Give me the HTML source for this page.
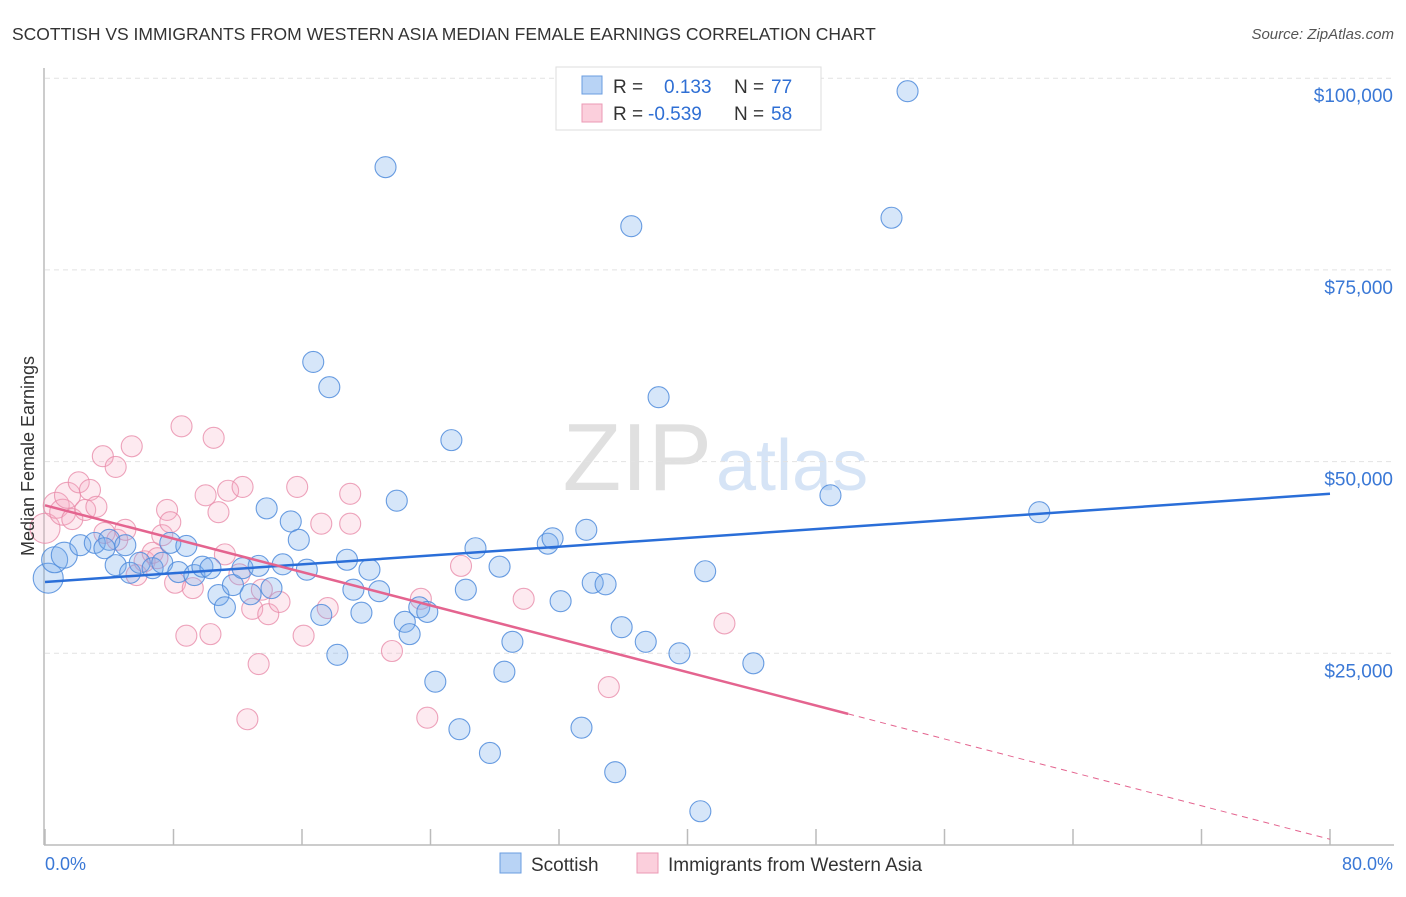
<!DOCTYPE html>
<html><head><meta charset="utf-8">
<style>
body{margin:0;background:#fff;font-family:"Liberation Sans",sans-serif;}
svg text{font-family:"Liberation Sans",sans-serif;}
</style></head>
<body>
<svg id="chart" width="1406" height="892" viewBox="0 0 1406 892" xmlns="http://www.w3.org/2000/svg">
<text x="12" y="40" font-size="17.5" fill="#333">SCOTTISH VS IMMIGRANTS FROM WESTERN ASIA MEDIAN FEMALE EARNINGS CORRELATION CHART</text>
<text x="1394" y="39" font-size="15" fill="#555" text-anchor="end" font-style="italic">Source: ZipAtlas.com</text>
<text x="712" y="490" font-size="96" fill="#e0e0e0" text-anchor="end" font-family="Liberation Serif">ZIP</text>
<text x="716" y="490" font-size="72" fill="#d6e4f6">atlas</text>
<g id="grid"></g>
<g id="axes"></g>
<g id="pts"></g>
<g id="lines"></g>
<text transform="translate(34,456) rotate(-90)" font-size="18" fill="#333" text-anchor="middle">Median Female Earnings</text>
<text x="45" y="870" font-size="18" fill="#3a78d6">0.0%</text>
<text x="1393" y="870" font-size="18" fill="#3a78d6" text-anchor="end">80.0%</text>
<g>
<rect x="556" y="67" width="265" height="63" fill="#fff" stroke="#ddd"/>
<rect x="582" y="76" width="20" height="18" fill="#b8d3f5" stroke="#6a9de0"/>
<rect x="582" y="104" width="20" height="18" fill="#fbcfdc" stroke="#eb9ab5"/>
<text x="613" y="93" font-size="19" fill="#333">R = </text>
<text x="664" y="93" font-size="19" fill="#2f6fd4">0.133</text>
<text x="734" y="93" font-size="19" fill="#333">N = </text>
<text x="771" y="93" font-size="19" fill="#2f6fd4">77</text>
<text x="613" y="120" font-size="19" fill="#333">R = </text>
<text x="648" y="120" font-size="19" fill="#2f6fd4">-0.539</text>
<text x="734" y="120" font-size="19" fill="#333">N = </text>
<text x="771" y="120" font-size="19" fill="#2f6fd4">58</text>
</g>
<g>
<rect x="500" y="853" width="21" height="20" fill="#b8d3f5" stroke="#6a9de0"/>
<text x="531" y="871" font-size="19" fill="#333">Scottish</text>
<rect x="637" y="853" width="21" height="20" fill="#fbcfdc" stroke="#eb9ab5"/>
<text x="668" y="871" font-size="19" fill="#333">Immigrants from Western Asia</text>
</g>
</svg>
<script>
const yTicks=[25000,50000,75000,100000];
const yTickLabels=["$25,000","$50,000","$75,000","$100,000"];
const xTicks=[0,8,16,24,32,40,48,56,64,72,80];
const blueX=[0.2,0.6,1.2,2.2,3.1,4.0,5.0,4.4,3.7,5.3,5.9,6.7,7.3,7.8,8.3,8.8,9.3,9.8,10.3,10.8,11.2,11.7,12.3,12.8,13.3,13.8,14.1,14.8,15.3,15.8,16.3,16.7,17.2,17.7,18.2,18.8,19.2,19.7,20.2,20.8,21.2,21.9,22.4,22.7,23.3,23.8,24.3,25.3,25.8,26.2,26.8,27.7,28.3,28.6,29.1,31.3,31.6,32.1,33.4,33.7,34.1,34.9,35.5,35.9,36.5,37.4,38.2,39.5,40.8,41.1,44.1,48.9,52.7,53.7,61.9];
const blueY=[34800,37200,37800,39100,39400,39800,39100,36500,38700,35500,36800,36100,36800,39400,35600,39000,35200,36300,36100,32600,31000,33900,36100,32700,36400,43900,33500,36600,42200,39800,35900,63000,30000,59700,24800,37200,33300,30300,35900,33100,88400,44900,29100,27500,31000,30400,21300,52800,15100,33300,38700,12000,36300,22600,26500,39300,40000,31800,15300,41100,34200,34000,9500,28400,80700,26500,58400,25000,4400,35700,23700,45600,81800,98300,43400];
const pinkX=[0,0.7,1.1,1.7,1.4,2.1,2.5,2.8,3.2,3.6,4.4,3.7,4.5,5.0,5.4,5.7,6.2,6.7,7.0,7.3,7.6,7.8,8.1,8.5,8.8,9.2,10.0,10.3,10.5,10.8,11.2,11.4,12.3,12.1,12.9,13.3,13.5,12.6,13.9,14.6,15.7,16.1,17.2,17.6,19.0,19.0,21.6,23.4,23.8,25.9,29.8,35.1,42.3];
const pinkY=[41300,44300,43400,42500,45600,47300,43700,46300,44100,50700,49300,40700,39800,41100,52000,35200,37000,38100,37400,40400,43700,42100,34200,54600,27300,33500,45600,27500,53100,43400,37900,46200,46700,35300,30800,23600,33300,16400,30100,31700,46700,27300,41900,30900,45800,41900,25300,32100,16600,36400,32100,20600,28900];
const blueTrend=[[0,34300],[80,45800]];
const pinkTrend=[[0,44300],[50,17100]];
const pinkTrendDash=[[50,17100],[80,750]];
const NS="http://www.w3.org/2000/svg";
const X=v=>45+v/80*1285;
const Y=v=>845-v/25000*191.7;
function mk(tag,attrs,parent){const e=document.createElementNS(NS,tag);for(const k in attrs)e.setAttribute(k,attrs[k]);parent.appendChild(e);return e;}
const grid=document.getElementById('grid'),axes=document.getElementById('axes'),pts=document.getElementById('pts'),lines=document.getElementById('lines');
yTicks.forEach((t,i)=>{
 const l=mk('line',{x1:45,x2:1394,y1:Y(t),y2:Y(t),stroke:'#e2e2e2','stroke-dasharray':'5,4'},grid);
 
 
 const tx=mk('text',{x:1393,y:Y(t)+24,'font-size':19,fill:'#3a78d6','text-anchor':'end'},grid);
 tx.textContent=yTickLabels[i];
 
 
});
const ya=mk('line',{x1:44,x2:44,y1:68,y2:845,stroke:'#bbb','stroke-width':1.5},axes);


const xa=mk('line',{x1:44,x2:1394,y1:845,y2:845,stroke:'#bbb','stroke-width':1.5},axes);


xTicks.forEach(t=>{
 const l=mk('line',{x1:X(t),x2:X(t),y1:829,y2:845,stroke:'#bbb','stroke-width':1.5},axes);
 
 
});
function dots(xs,ys,fill,stroke,name){
 xs.forEach((x,i)=>{
  const r=x<1.5?(i===0?15:13):10.5;
  const c=mk('circle',{cx:X(x),cy:Y(ys[i]),r:r,fill:fill,stroke:stroke,'stroke-width':1.1},pts);
  
  
 });
}
dots(pinkX,pinkY,'rgba(246,170,196,0.25)','rgba(232,140,170,0.8)','immigrants-point');
dots(blueX,blueY,'rgba(120,172,235,0.3)','rgba(80,140,220,0.85)','scottish-point');
function tline(p,stroke,w,dash,name){
 const l=mk('line',{x1:X(p[0][0]),y1:Y(p[0][1]),x2:X(p[1][0]),y2:Y(p[1][1]),stroke:stroke,'stroke-width':w},lines);
 if(dash)l.setAttribute('stroke-dasharray',dash);
 
 
}
tline(blueTrend,'#2a6ed8',2.5,null,'scottish-trendline');
tline(pinkTrend,'#e4648f',2.5,null,'immigrants-trendline');
tline(pinkTrendDash,'#e4648f',1,'6,5','immigrants-trendline-extension');
</script>
</body></html>
